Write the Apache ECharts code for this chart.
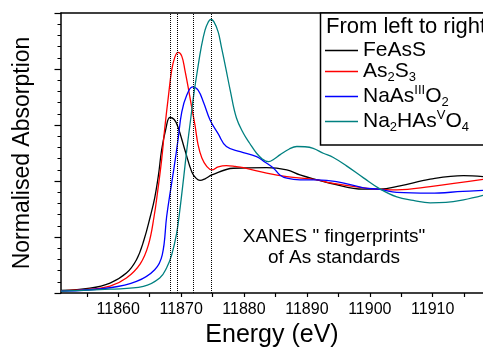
<!DOCTYPE html>
<html><head><meta charset="utf-8">
<script src="https://cdn.jsdelivr.net/npm/echarts@6/dist/echarts.min.js"></script>
<style>html,body{margin:0;padding:0;background:#fff}#c{width:483px;height:348px}</style>
</head><body><div id="c"></div>
<script>
// ---- data ----
const xLabelValues = [11860, 11870, 11880, 11890, 11900, 11910];
const xTickValues = [11855, 11860, 11865, 11870, 11875, 11880, 11885, 11890, 11895, 11900, 11905, 11910, 11915];
const peakLines = [11868.2, 11869.4, 11871.9, 11874.8];
const seriesNames = ['FeAsS', 'As2S3', 'NaAsIIIO2', 'Na2HAsVO4'];
const seriesColors = ['#000000', '#ff0000', '#0000ff', '#008080'];

const feassE = [11850.9, 11855.5, 11858.7, 11861.3, 11862.9, 11864.1, 11865.1, 11865.8, 11866.4, 11866.9, 11867.6, 11868.2, 11868.9, 11869.5, 11870.6, 11871.7, 11872.4, 11873.0, 11873.8, 11874.9, 11878.3, 11883.6, 11886.8, 11888.9, 11891.6, 11893.7, 11899.0, 11901.6, 11904.8, 11909.6, 11914.9, 11918.0];
const feassV = [0.023, 0.043, 0.089, 0.178, 0.297, 0.475, 0.683, 0.849, 1.054, 1.277, 1.473, 1.567, 1.549, 1.482, 1.277, 1.081, 1.023, 1.005, 1.019, 1.054, 1.114, 1.119, 1.099, 1.054, 1.010, 0.980, 0.927, 0.927, 0.956, 1.016, 1.048, 1.039];

const as2s3E = [11850.9, 11855.5, 11858.7, 11861.3, 11863.5, 11864.8, 11865.7, 11866.3, 11866.9, 11867.4, 11868.0, 11868.5, 11869.0, 11869.5, 11870.1, 11870.6, 11871.2, 11871.7, 11872.2, 11872.7, 11873.3, 11874.1, 11874.9, 11875.9, 11877.2, 11878.6, 11879.9, 11883.6, 11886.8, 11891.6, 11893.7, 11899.0, 11901.6, 11904.3, 11909.6, 11918.0];
const as2s3V = [0.019, 0.034, 0.061, 0.134, 0.261, 0.430, 0.683, 0.921, 1.188, 1.473, 1.767, 1.990, 2.106, 2.148, 2.115, 1.990, 1.812, 1.652, 1.500, 1.322, 1.206, 1.128, 1.099, 1.126, 1.137, 1.130, 1.119, 1.070, 1.039, 1.010, 0.983, 0.939, 0.927, 0.921, 0.950, 1.014];

const naaso2E = [11850.9, 11858.7, 11862.9, 11865.8, 11867.0, 11867.7, 11868.2, 11868.9, 11869.5, 11870.1, 11870.9, 11871.8, 11872.7, 11873.6, 11874.6, 11875.9, 11877.2, 11879.4, 11882.0, 11883.3, 11884.7, 11885.7, 11886.8, 11888.9, 11891.6, 11894.7, 11899.0, 11901.6, 11904.3, 11909.6, 11914.8, 11918.0];
const naaso2V = [0.016, 0.047, 0.103, 0.208, 0.341, 0.683, 0.876, 1.128, 1.366, 1.616, 1.767, 1.841, 1.812, 1.696, 1.545, 1.420, 1.307, 1.262, 1.218, 1.170, 1.114, 1.054, 1.025, 1.010, 1.010, 0.995, 0.939, 0.925, 0.898, 0.891, 0.907, 0.916];

const na2haso4E = [11850.9, 11858.7, 11864.0, 11866.6, 11867.7, 11868.5, 11869.3, 11869.8, 11870.4, 11870.9, 11871.5, 11872.0, 11872.6, 11873.2, 11873.8, 11874.3, 11874.7, 11875.2, 11875.9, 11876.4, 11877.1, 11877.8, 11878.8, 11879.9, 11880.9, 11882.0, 11882.9, 11883.9, 11884.8, 11885.7, 11887.2, 11888.4, 11889.7, 11891.0, 11892.6, 11894.2, 11896.3, 11899.0, 11901.6, 11904.3, 11906.9, 11909.6, 11912.1, 11914.9, 11918.0];
const na2haso4V = [0.016, 0.034, 0.059, 0.134, 0.226, 0.341, 0.537, 0.742, 1.028, 1.277, 1.545, 1.767, 1.990, 2.195, 2.347, 2.418, 2.442, 2.423, 2.329, 2.198, 2.008, 1.812, 1.562, 1.426, 1.337, 1.248, 1.197, 1.173, 1.197, 1.233, 1.286, 1.308, 1.306, 1.292, 1.248, 1.210, 1.135, 1.028, 0.930, 0.858, 0.827, 0.805, 0.809, 0.832, 0.872];

// ---- chart ----
const FONT = '"Liberation Sans", Arial, sans-serif';
const pairs = (E, V) => E.map((e, i) => [e, V[i]]);
const allData = [pairs(feassE, feassV), pairs(as2s3E, as2s3V), pairs(naaso2E, naaso2V), pairs(na2haso4E, na2haso4V)];
const legendText = {
  'FeAsS': '{t|FeAsS}',
  'As2S3': '{t|As}{sub|2}{t|S}{sub|3}',
  'NaAsIIIO2': '{t|NaAs}{sup|III}{t|O}{sub|2}',
  'Na2HAsVO4': '{t|Na}{sub|2}{t|HAs}{sup|V}{t|O}{sub|4}'
};

const chart = echarts.init(document.getElementById('c'), null, {renderer: 'canvas'});
const series = seriesNames.map((n, i) => ({
  name: n, type: 'line', data: allData[i], showSymbol: false, symbol: 'none',
  smooth: 0.4, color: seriesColors[i],
  lineStyle: {width: 1.3, color: seriesColors[i]},
  emphasis: {disabled: true}, z: 2
}));
series[0].markLine = {
  silent: true, symbol: ['none', 'none'], label: {show: false},
  lineStyle: {type: 'dotted', color: '#000', width: 1},
  emphasis: {disabled: true},
  data: peakLines.map(x => ({xAxis: x}))
};

chart.setOption({
  animation: false,
  backgroundColor: '#fff',
  textStyle: {fontFamily: FONT},
  grid: {left: 61, right: 0, top: 13, bottom: 55, containLabel: false, outerBoundsMode: 'none'},
  xAxis: [{
    type: 'value', min: 11850.9, max: 11918,
    axisLine: {show: true, lineStyle: {color: '#000', width: 1.5}},
    axisTick: {show: true, customValues: xTickValues, length: 4, lineStyle: {color: '#000', width: 1.2}},
    axisLabel: {customValues: xLabelValues, formatter: v => String(Math.round(v)), fontSize: 16, color: '#000', margin: 9, fontFamily: FONT},
    splitLine: {show: false},
    name: 'Energy (eV)', nameLocation: 'middle', nameGap: 26,
    nameTextStyle: {fontSize: 25, color: '#000', fontFamily: FONT}
  }, {
    type: 'value', position: 'top', min: 11850.9, max: 11918,
    axisLine: {show: true, lineStyle: {color: '#000', width: 1.5}},
    axisTick: {show: false}, axisLabel: {show: false}, splitLine: {show: false}
  }],
  yAxis: {
    type: 'value', min: 0, max: 2.5, interval: 0.5,
    axisLine: {show: true, lineStyle: {color: '#000', width: 1.5}},
    axisTick: {show: true, length: 6.5, lineStyle: {color: '#000', width: 1.2}},
    minorTick: {show: true, splitNumber: 5, length: 3.5, lineStyle: {color: '#000', width: 1}},
    axisLabel: {show: false},
    splitLine: {show: false},
    name: 'Normalised Absorption', nameLocation: 'middle', nameGap: 27,
    nameTextStyle: {fontSize: 23, color: '#000', fontFamily: FONT}
  },
  legend: {
    orient: 'vertical', left: 325, top: 40, itemWidth: 33, itemHeight: 1.5, itemGap: 0,
    icon: 'rect', selectedMode: false, padding: 0, z: 6,
    data: seriesNames,
    formatter: n => legendText[n],
    textStyle: {
      color: '#000', fontFamily: FONT,
      rich: {
        t: {fontSize: 21, lineHeight: 25, color: '#000', fontFamily: FONT},
        sub: {fontSize: 13, lineHeight: 13, verticalAlign: 'bottom', color: '#000', fontFamily: FONT},
        sup: {fontSize: 13, lineHeight: 13, verticalAlign: 'top', color: '#000', fontFamily: FONT}
      }
    }
  },
  graphic: [
    {type: 'rect', z: 5, shape: {x: 320.5, y: 13, width: 200, height: 132},
     style: {fill: '#fff', stroke: '#000', lineWidth: 1.5}},
    {type: 'text', z: 6, style: {text: 'From left to right', x: 326, y: 27,
      fontSize: 22, fontFamily: FONT, fill: '#000', verticalAlign: 'middle', textVerticalAlign: 'middle'}},
    {type: 'text', z: 6, style: {text: 'XANES " fingerprints"\nof As standards', x: 334, y: 247.5,
      fontSize: 19, lineHeight: 21, fontFamily: FONT, fill: '#000',
      align: 'center', textAlign: 'center', verticalAlign: 'middle', textVerticalAlign: 'middle'}}
  ],
  series: series
});
</script></body></html>
